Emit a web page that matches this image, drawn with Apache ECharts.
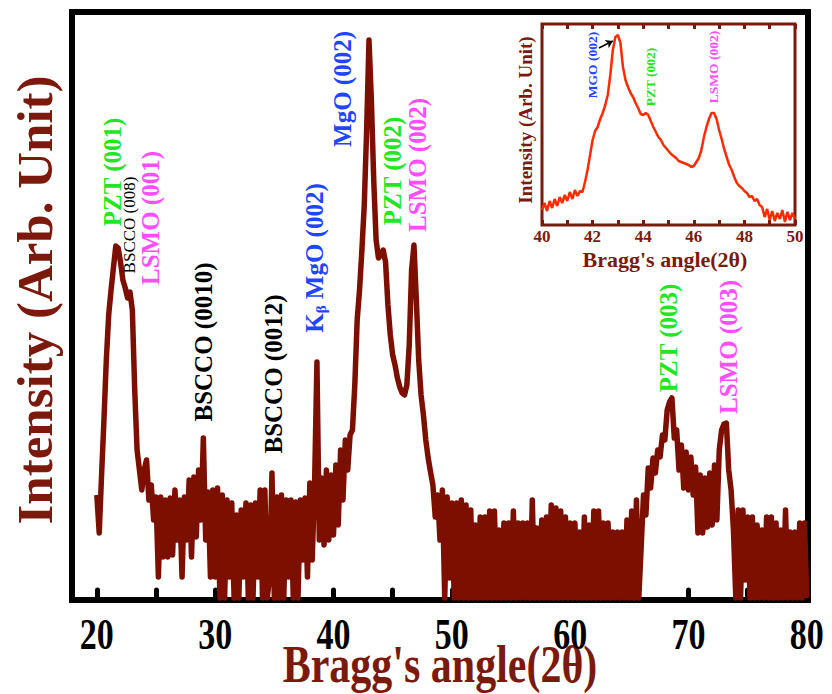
<!DOCTYPE html>
<html>
<head>
<meta charset="utf-8">
<title>XRD pattern</title>
<script src="https://cdn.jsdelivr.net/npm/echarts@6/dist/echarts.min.js"></script>
<style>
  html, body { margin: 0; padding: 0; background: #fff; }
  #main { width: 832px; height: 694px; }
</style>
</head>
<body>
<div id="main"></div>
<script>
// main scan, 2theta 20..80 read every 0.2 deg (arb. units)
var scanStart = 20, scanStep = 0.2;
var intensity = [
  105, 67, 125, 180, 240,
  285, 310, 332, 354, 352,
  338, 320, 312, 302, 308,
  290, 210, 150, 130, 110,
  130, 140, 100, 115, 80,
  103, 23, 103, 43, 100,
  43, 102, 45, 110, 60,
  100, 23, 103, 60, 120,
  43, 123, 63, 130, 80,
  162, 60, 108, 23, 110,
  23, 112, 2, 105, 2,
  100, 23, 97, 2, 85,
  2, 90, 23, 97, 2,
  95, 2, 97, 23, 110,
  2, 110, 2, 23, 127,
  2, 103, 2, 105, 2,
  100, 23, 100, 2, 98,
  2, 100, 40, 102, 23,
  117, 40, 115, 238, 60,
  122, 55, 130, 60, 125,
  65, 135, 75, 150, 100,
  160, 130, 165, 170, 215,
  280, 310, 350, 395, 470,
  560, 500, 420, 360, 342,
  345, 350, 338, 295, 265,
  245, 235, 222, 213, 207,
  205, 215, 255, 330, 355,
  300, 240, 205, 185, 160,
  142, 128, 115, 83, 105,
  60, 110, 2, 103, 22,
  97, 2, 97, 2, 100,
  2, 95, 2, 90, 2,
  75, 2, 83, 2, 83,
  2, 89, 2, 89, 2,
  70, 2, 77, 2, 77,
  2, 89, 2, 77, 2,
  77, 2, 77, 2, 100,
  2, 72, 2, 80, 2,
  83, 2, 95, 2, 92,
  2, 89, 2, 83, 2,
  77, 2, 77, 2, 68,
  2, 83, 2, 75, 2,
  89, 2, 89, 2, 77,
  2, 77, 2, 68, 2,
  68, 2, 68, 2, 80,
  2, 89, 2, 100, 2,
  53, 105, 85, 132, 112,
  142, 127, 150, 143, 165,
  160, 190, 198, 202, 162,
  170, 130, 155, 112, 148,
  110, 143, 105, 133, 67,
  125, 67, 122, 73, 127,
  75, 135, 80, 150, 170,
  176, 177, 130, 110, 70,
  2, 90, 2, 90, 20,
  83, 2, 83, 2, 75,
  2, 70, 2, 83, 2,
  83, 2, 77, 2, 70,
  2, 90, 2, 68, 2,
  68, 2, 77, 2, 77,
  2
];

// inset, 40..50 deg every 0.1 deg
var insetStart = 40, insetStep = 0.1;
var insetIntensity = [
  15, 22, 14, 24, 17, 26, 19, 28, 22, 30,
  24, 33, 26, 35, 29, 34, 33, 43, 55, 70,
  85, 94, 98, 106, 112, 120, 130, 150, 175, 188,
  190, 182, 158, 145, 138, 132, 128, 122, 117, 111,
  110, 112, 110, 104, 98, 93, 88, 85, 80, 77,
  74, 71, 69, 67, 64, 63, 62, 61, 60, 58,
  59, 63, 67, 75, 88, 98, 106, 112, 112, 106,
  95, 86, 76, 68, 60, 55, 48, 42, 39, 37,
  34, 32, 28, 29, 24, 26, 20, 18, 8, 16,
  5, 14, 4, 12, 6, 15, 3, 13, 5, 12,
  6
];

var tickLabels = [20, 30, 40, 50, 60, 70, 80];
var tickMarks = [20, 25, 30, 35, 40, 45, 50, 55, 60, 65, 70, 75, 80];
var insetTickLabels = [40, 42, 44, 46, 48, 50];

// peak labels: name, angle, height of label centre
var peakNames = ['PZT (001)', 'BSCCO (008)', 'LSMO (001)', 'BSCCO (0010)', 'BSCCO (0012)',
  'K\u03b2 MgO (002)', 'MgO (002)', 'PZT (002)', 'LSMO (002)', 'PZT (003)', 'LSMO (003)'];
var peakAngles = [21.3, 22.8, 24.5, 29.0, 34.9, 38.4, 40.8, 45.0, 47.1, 68.3, 73.4];
var peakLevels = [428, 375, 382, 258, 226, 342, 511, 429, 435, 262, 253];

var insetNames = ['MGO (002)', 'PZT (002)', 'LSMO (002)'];
var insetAngles = [42.0, 44.27, 46.76];
var insetLevels = [160, 148, 158];

var serif = '"Liberation Serif", "DejaVu Serif", serif';
var darkRed = '#7b1a0c';
var green = '#22e622', blue = '#1f45ff', pink = '#ff4dff';

function colorOf(name) {
  if (name.indexOf('PZT') === 0) return green;
  if (name.indexOf('LSMO') === 0) return pink;
  if (name.indexOf('BSCCO') === 0) return '#000';
  return blue;
}

var scan = intensity.map(function (v, i) {
  return [+(scanStart + i * scanStep).toFixed(2), v];
});
var zoomScan = insetIntensity.map(function (v, i) {
  return [+(insetStart + i * insetStep).toFixed(2), v];
});

var myChart = echarts.init(document.getElementById('main'), null, { renderer: 'svg' });

var options = {
  animation: false,
  backgroundColor: '#fff',
  grid: [
    { left: 72, top: 12, width: 736, height: 588, show: true, borderColor: '#000', borderWidth: 6 },
    { left: 542, top: 24, width: 253, height: 201, show: true, borderColor: darkRed, borderWidth: 3, backgroundColor: '#fff' }
  ],
  xAxis: [
    {
      gridIndex: 0, type: 'value', min: 17.9, max: 80.1,
      axisLine: { show: false }, splitLine: { show: false },
      axisLabel: { show: false },
      axisTick: { show: true, inside: true, length: 10, customValues: tickMarks,
        lineStyle: { color: '#000', width: 5, cap: 'round' } }
    },
    {
      gridIndex: 1, type: 'value', min: 40, max: 50, interval: 1,
      axisLine: { show: false }, splitLine: { show: false },
      axisTick: { inside: true, length: 5, lineStyle: { color: darkRed, width: 3 } },
      axisLabel: {
        margin: 3, color: darkRed, fontFamily: serif, fontWeight: 'bold', fontSize: 17,
        customValues: insetTickLabels
      }
    },
    {
      gridIndex: 1, type: 'value', position: 'top', min: 40, max: 50, interval: 1,
      axisLine: { show: false }, splitLine: { show: false },
      axisTick: { inside: true, length: 5, lineStyle: { color: darkRed, width: 3 } },
      axisLabel: { show: false }
    }
  ],
  yAxis: [
    { gridIndex: 0, type: 'value', min: 0, max: 588, show: false },
    { gridIndex: 1, type: 'value', min: 0, max: 201, show: false }
  ],
  series: [
    {
      type: 'line', xAxisIndex: 0, yAxisIndex: 0, data: scan,
      symbol: 'none', lineStyle: { color: '#7d0f00', width: 5.5, join: 'round' }
    },
    {
      type: 'line', xAxisIndex: 1, yAxisIndex: 1, data: zoomScan,
      symbol: 'none', lineStyle: { color: '#ff2a00', width: 2.5 },
      markLine: {
        silent: true, symbol: ['none', 'arrow'], symbolSize: 7,
        label: { show: false },
        lineStyle: { color: '#000', width: 1.5, type: 'solid' },
        data: [[{ coord: [42.25, 177] }, { coord: [42.8, 184] }]]
      }
    }
  ]
};
myChart.setOption(options);

function text(x, y, str, color, size, opt) {
  opt = opt || {};
  return {
    type: 'text', x: x, y: y, silent: true, z: 10,
    rotation: opt.rot || 0, scaleY: opt.sy || 1,
    style: {
      text: str, fill: color, fontFamily: serif, fontSize: size,
      fontWeight: opt.weight || 'bold', align: 'center', verticalAlign: 'middle',
      rich: opt.rich
    }
  };
}

var g = [];
// axis titles
g.push(text(35, 300, 'Intensity (Arb. Unit)', darkRed, 51, { rot: Math.PI / 2 }));
g.push(text(440, 664, "Bragg's angle(2\u03b8)", darkRed, 42, { sy: 1.26 }));
g.push(text(525, 120, 'Intensity (Arb. Unit)', darkRed, 19, { rot: Math.PI / 2 }));
g.push(text(665, 259, "Bragg's angle(2\u03b8)", darkRed, 22));

// main tick labels
tickLabels.forEach(function (v) {
  var px = myChart.convertToPixel({ xAxisIndex: 0 }, v);
  g.push(text(px, 634, String(v), '#000', 34, { sy: 1.3 }));
});

// peak labels
peakNames.forEach(function (name, i) {
  var p = myChart.convertToPixel({ gridIndex: 0 }, [peakAngles[i], peakLevels[i]]);
  var c = colorOf(name);
  if (name === 'BSCCO (008)') {
    g.push(text(p[0], p[1], name, c, 17, { rot: Math.PI / 2, weight: 'normal' }));
  } else if (name.indexOf('K') === 0) {
    g.push(text(p[0], p[1], '{k|K}{b|\u03b2}{k| MgO (002)}', c, 25, {
      rot: Math.PI / 2,
      rich: {
        k: { fill: c, fontFamily: serif, fontWeight: 'bold', fontSize: 25, lineHeight: 28 },
        b: { fill: c, fontFamily: serif, fontWeight: 'bold', fontSize: 15, verticalAlign: 'bottom', padding: [12, 0, 0, 0] }
      }
    }));
  } else {
    g.push(text(p[0], p[1], name, c, 25, { rot: Math.PI / 2 }));
  }
});

// inset labels
insetNames.forEach(function (name, i) {
  var p = myChart.convertToPixel({ gridIndex: 1 }, [insetAngles[i], insetLevels[i]]);
  g.push(text(p[0], p[1], name, colorOf(name), 13.5, { rot: Math.PI / 2 }));
});

myChart.setOption({ graphic: g });

window.addEventListener('resize', function () { myChart.resize(); });
</script>
</body>
</html>
